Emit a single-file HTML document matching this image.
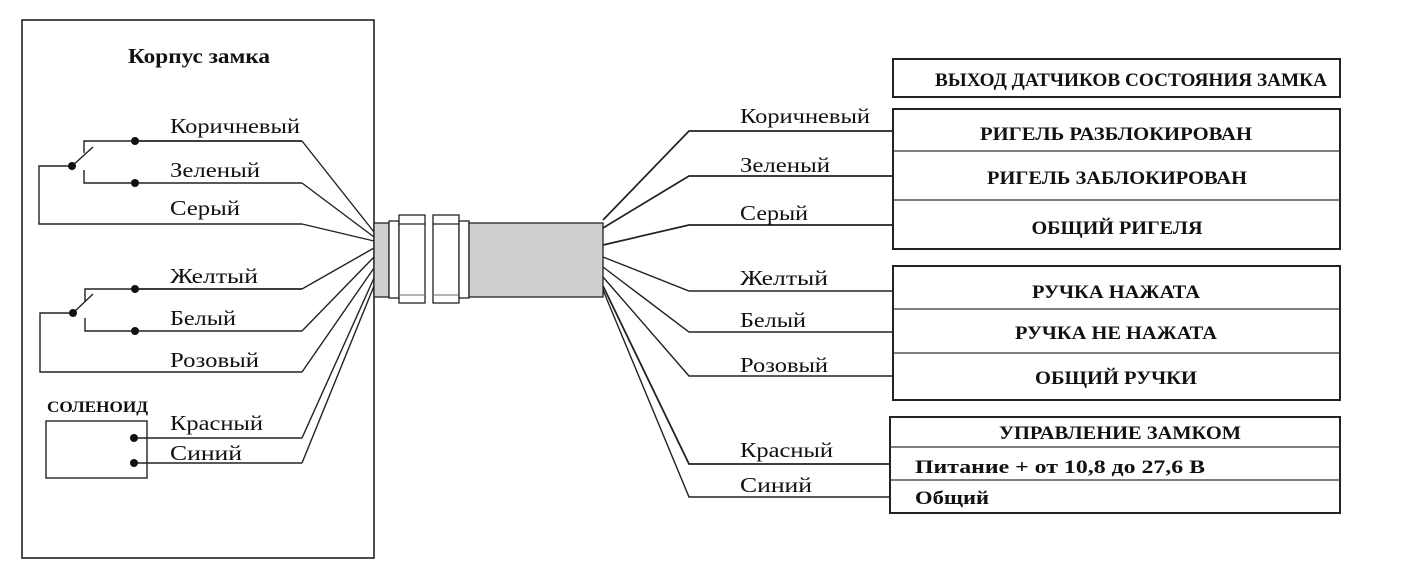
<!DOCTYPE html>
<html><head><meta charset="utf-8"><style>
html,body{margin:0;padding:0;background:#fff;}
svg{display:block;}
text{font-family:"Liberation Serif",serif;fill:#111;}
.l{font-size:21px;}
.b{font-weight:bold;font-size:19px;}
</style></head><body>
<svg width="1422" height="571" viewBox="0 0 1422 571" xmlns="http://www.w3.org/2000/svg">
<g fill="none" stroke="#222" stroke-width="1.4">
<rect x="22" y="20" width="352" height="538" stroke-width="1.6"/>
<polyline points="135,141 84,141 84,153"/>
<line x1="72" y1="166" x2="93" y2="147"/>
<polyline points="84,170 84,183 135,183"/>
<polyline points="72,166 39,166 39,224 302,224"/>
<line x1="135" y1="141" x2="302" y2="141" stroke-width="1.8"/>
<line x1="135" y1="183" x2="302" y2="183"/>
<polyline points="135,289 85,289 85,301"/>
<line x1="73" y1="313" x2="93" y2="294"/>
<polyline points="85,318 85,331 135,331"/>
<polyline points="73,313 40,313 40,372 302,372"/>
<line x1="135" y1="289" x2="302" y2="289" stroke-width="1.8"/>
<line x1="135" y1="331" x2="302" y2="331"/>
<rect x="46" y="421" width="101" height="57"/>
<line x1="134" y1="438" x2="302" y2="438" stroke-width="1.6"/>
<line x1="134" y1="463" x2="302" y2="463"/>
<line x1="302" y1="141" x2="374" y2="232"/>
<line x1="302" y1="183" x2="374" y2="237"/>
<line x1="302" y1="224" x2="374" y2="241"/>
<line x1="302" y1="289" x2="374" y2="248"/>
<line x1="302" y1="331" x2="374" y2="257"/>
<line x1="302" y1="372" x2="374" y2="268"/>
<line x1="302" y1="438" x2="374" y2="278"/>
<line x1="302" y1="463" x2="374" y2="286"/>
<polyline points="603,220 689,131 893,131" stroke-width="1.7"/>
<polyline points="603,228 689,176 893,176" stroke-width="1.7"/>
<polyline points="603,245 689,225 893,225" stroke-width="1.7"/>
<polyline points="603,257 689,291 893,291"/>
<polyline points="603,267 689,332 893,332"/>
<polyline points="603,277 689,376 893,376"/>
<polyline points="603,286 689,464 890,464" stroke-width="1.8"/>
<polyline points="603,290 689,497 890,497"/>
</g>
<g stroke="#222" stroke-width="1.3">
<rect x="374" y="223" width="15" height="74" fill="#cfcfcf"/>
<rect x="389" y="221" width="10" height="77" fill="#fff"/>
<rect x="399" y="215" width="26" height="88" fill="#fff"/>
<line x1="399" y1="224" x2="425" y2="224"/><line x1="399" y1="295" x2="425" y2="295" stroke="#888"/>
<rect x="433" y="215" width="26" height="88" fill="#fff"/>
<line x1="433" y1="224" x2="459" y2="224"/><line x1="433" y1="295" x2="459" y2="295" stroke="#888"/>
<rect x="459" y="221" width="10" height="77" fill="#fff"/>
<rect x="469" y="223" width="134" height="74" fill="#cfcfcf"/>
</g>
<g fill="#111">
<circle cx="135" cy="141" r="4"/><circle cx="135" cy="183" r="4"/><circle cx="72" cy="166" r="4"/>
<circle cx="135" cy="289" r="4"/><circle cx="135" cy="331" r="4"/><circle cx="73" cy="313" r="4"/>
<circle cx="134" cy="438" r="4"/><circle cx="134" cy="463" r="4"/>
</g>
<g fill="none" stroke="#222" stroke-width="2">
<rect x="893" y="59" width="447" height="38"/>
<rect x="893" y="109" width="447" height="140"/>
<rect x="893" y="266" width="447" height="134"/>
<rect x="890" y="417" width="450" height="96"/>
</g>
<g stroke="#333" stroke-width="1.3">
<line x1="893" y1="151" x2="1340" y2="151"/><line x1="893" y1="200" x2="1340" y2="200"/>
<line x1="893" y1="309" x2="1340" y2="309"/><line x1="893" y1="353" x2="1340" y2="353"/>
<line x1="890" y1="447" x2="1340" y2="447"/><line x1="890" y1="480" x2="1340" y2="480"/>
</g>
<text x="128" y="63" font-weight="bold" font-size="21" textLength="142" lengthAdjust="spacingAndGlyphs">Корпус замка</text>
<text x="47" y="412" font-weight="bold" font-size="16" textLength="101" lengthAdjust="spacingAndGlyphs">СОЛЕНОИД</text>
<g class="l">
<text x="170" y="133" textLength="130" lengthAdjust="spacingAndGlyphs">Коричневый</text>
<text x="170" y="177" textLength="90" lengthAdjust="spacingAndGlyphs">Зеленый</text>
<text x="170" y="215" textLength="70" lengthAdjust="spacingAndGlyphs">Серый</text>
<text x="170" y="283" textLength="88" lengthAdjust="spacingAndGlyphs">Желтый</text>
<text x="170" y="325" textLength="66" lengthAdjust="spacingAndGlyphs">Белый</text>
<text x="170" y="367" textLength="89" lengthAdjust="spacingAndGlyphs">Розовый</text>
<text x="170" y="430" textLength="93" lengthAdjust="spacingAndGlyphs">Красный</text>
<text x="170" y="460" textLength="72" lengthAdjust="spacingAndGlyphs">Синий</text>
<text x="740" y="123" textLength="130" lengthAdjust="spacingAndGlyphs">Коричневый</text>
<text x="740" y="172" textLength="90" lengthAdjust="spacingAndGlyphs">Зеленый</text>
<text x="740" y="220" textLength="68" lengthAdjust="spacingAndGlyphs">Серый</text>
<text x="740" y="285" textLength="88" lengthAdjust="spacingAndGlyphs">Желтый</text>
<text x="740" y="327" textLength="66" lengthAdjust="spacingAndGlyphs">Белый</text>
<text x="740" y="372" textLength="88" lengthAdjust="spacingAndGlyphs">Розовый</text>
<text x="740" y="457" textLength="93" lengthAdjust="spacingAndGlyphs">Красный</text>
<text x="740" y="492" textLength="72" lengthAdjust="spacingAndGlyphs">Синий</text>
</g>
<g class="b" text-anchor="middle">
<text x="1131" y="86" textLength="392" lengthAdjust="spacingAndGlyphs">ВЫХОД ДАТЧИКОВ СОСТОЯНИЯ ЗАМКА</text>
<text x="1116" y="140" textLength="272" lengthAdjust="spacingAndGlyphs">РИГЕЛЬ РАЗБЛОКИРОВАН</text>
<text x="1117" y="184" textLength="260" lengthAdjust="spacingAndGlyphs">РИГЕЛЬ ЗАБЛОКИРОВАН</text>
<text x="1117" y="234" textLength="171" lengthAdjust="spacingAndGlyphs">ОБЩИЙ РИГЕЛЯ</text>
<text x="1116" y="298" textLength="168" lengthAdjust="spacingAndGlyphs">РУЧКА НАЖАТА</text>
<text x="1116" y="339" textLength="202" lengthAdjust="spacingAndGlyphs">РУЧКА НЕ НАЖАТА</text>
<text x="1116" y="384" textLength="162" lengthAdjust="spacingAndGlyphs">ОБЩИЙ РУЧКИ</text>
<text x="1120" y="439" textLength="242" lengthAdjust="spacingAndGlyphs">УПРАВЛЕНИЕ ЗАМКОМ</text>
</g>
<text class="b" x="915" y="473" textLength="290" lengthAdjust="spacingAndGlyphs">Питание  + от 10,8 до 27,6 В</text>
<text class="b" x="915" y="504" textLength="74" lengthAdjust="spacingAndGlyphs">Общий</text>
</svg>
</body></html>
